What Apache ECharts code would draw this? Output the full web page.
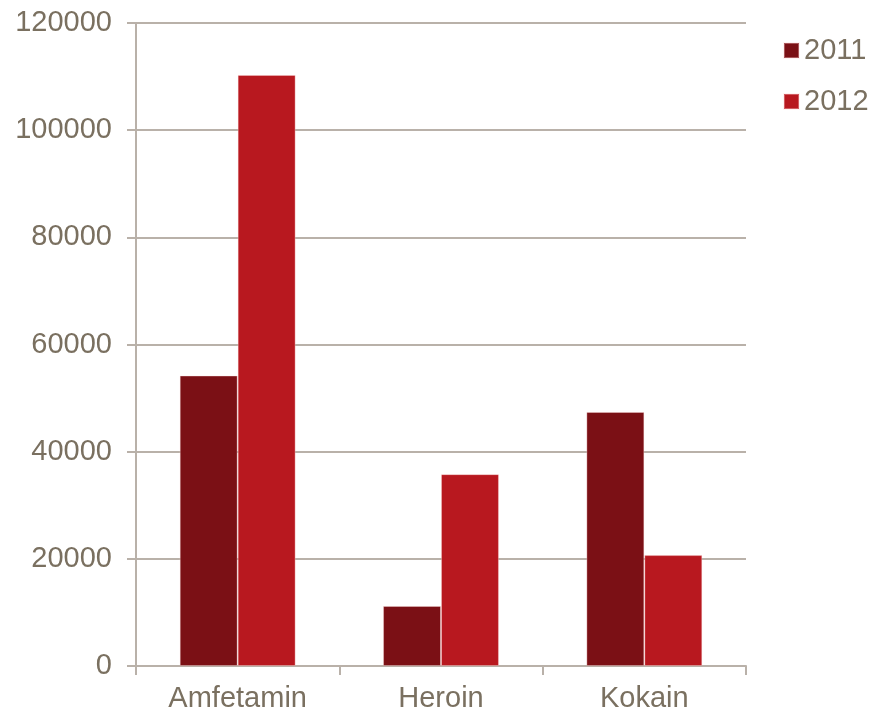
<!DOCTYPE html>
<html>
<head>
<meta charset="utf-8">
<script src="https://cdn.jsdelivr.net/npm/echarts@6/dist/echarts.min.js"></script>
<style>html,body{margin:0;padding:0;background:#fff;}#c{width:874px;height:715px;}</style>
</head>
<body>
<div id="c"></div>
<script>
var categories = ['Amfetamin', 'Heroin', 'Kokain'];
var seriesNames = ['2011', '2012'];
var values2011 = [54200, 11200, 47400];
var values2012 = [110300, 35800, 20700];
var yTicks = [0, 20000, 40000, 60000, 80000, 100000, 120000];

var textColor = '#7a7060';
var lineColor = '#b9b1a9';
var font = 'Liberation Sans, Arial, sans-serif';

var chart = echarts.init(document.getElementById('c'));
chart.setOption({
  animation: false,
  grid: { left: 136, right: 128, top: 23, bottom: 49, containLabel: false },
  legend: {
    orient: 'vertical', left: 783, top: 36, padding: 0,
    itemWidth: 15, itemHeight: 15, itemGap: 22,
    icon: 'rect',
    textStyle: { color: textColor, fontSize: 29, fontFamily: font, padding: [0, 0, 0, 0] },
    data: seriesNames
  },
  xAxis: {
    type: 'category', data: categories,
    axisLine: { lineStyle: { color: lineColor, width: 2 } },
    axisTick: { show: true, length: 9, lineStyle: { color: lineColor, width: 2 } },
    axisLabel: { color: textColor, fontSize: 29, fontFamily: font, margin: 18 }
  },
  yAxis: {
    type: 'value', min: yTicks[0], max: yTicks[yTicks.length - 1], interval: 20000,
    axisLine: { show: true, lineStyle: { color: lineColor, width: 2 } },
    axisTick: { show: true, length: 9, lineStyle: { color: lineColor, width: 2 } },
    splitLine: { lineStyle: { color: lineColor, width: 2 } },
    axisLabel: { color: textColor, fontSize: 29, fontFamily: font, margin: 24,
      formatter: function (v) { return String(v); } }
  },
  series: [
    { name: seriesNames[0], type: 'bar', data: values2011, barGap: '0%', barCategoryGap: '43%',
      itemStyle: { color: '#7b1015', borderColor: 'rgba(255,220,220,0.35)', borderWidth: 1 } },
    { name: seriesNames[1], type: 'bar', data: values2012, barGap: '0%', barCategoryGap: '43%',
      itemStyle: { color: '#b8181f', borderColor: 'rgba(255,220,220,0.35)', borderWidth: 1 } }
  ]
});
</script>
</body>
</html>
